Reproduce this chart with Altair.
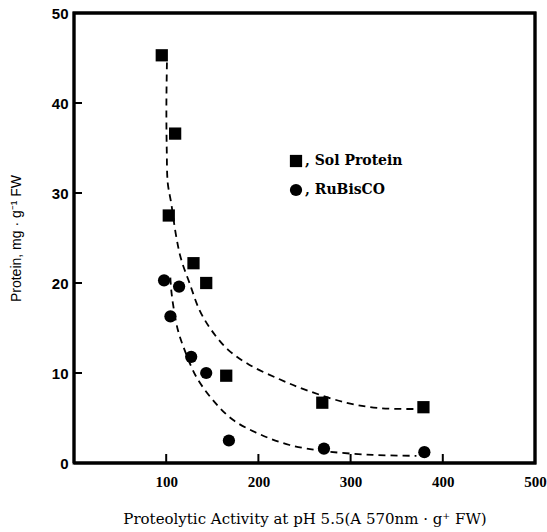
import altair as alt
import pandas as pd

series = ["Sol Protein", "RuBisCO"]
sol_x = [95.2, 109.7, 102.8, 129.6, 143.4, 165.1, 269.3, 379.0]
sol_y = [45.3, 36.6, 27.5, 22.2, 20.0, 9.7, 6.7, 6.2]
rub_x = [97.7, 114.0, 104.6, 127.1, 143.4, 168.0, 271.1, 380.0]
rub_y = [20.3, 19.6, 16.3, 11.8, 10.0, 2.5, 1.6, 1.2]

sol_curve_x = [100.8, 100.2, 100.6, 101.7, 105.4, 110.8, 116.3, 125.3, 136.1, 148.8,
               166.9, 190.4, 223.0, 252.0, 295.4, 331.5, 371.4]
sol_curve_y = [44.5, 39.6, 34.8, 31.1, 28.9, 25.2, 22.6, 20.0, 17.0, 14.8,
               12.6, 10.9, 9.3, 8.1, 6.7, 6.1, 6.0]
rub_curve_x = [104.5, 105.4, 107.2, 112.6, 119.8, 132.5, 150.6, 172.3, 201.3, 233.8,
               273.7, 324.3, 371.4]
rub_curve_y = [20.6, 19.3, 17.8, 14.8, 12.6, 9.6, 7.0, 4.8, 3.2, 2.0,
               1.3, 0.9, 0.8]

x_ticks = [100, 200, 300, 400]
y_ticks = [10, 20, 30, 40]
x_labels = [100, 200, 300, 400, 500]
y_labels = [0, 10, 20, 30, 40, 50]
box_x = [0, 500, 500, 0, 0]
box_y = [0, 0, 50, 50, 0]

pts = pd.DataFrame(
    {"x": sol_x + rub_x, "y": sol_y + rub_y,
     "s": [series[0]] * len(sol_x) + [series[1]] * len(rub_x)}
)
curves = pd.DataFrame(
    {"x": sol_curve_x + rub_curve_x, "y": sol_curve_y + rub_curve_y,
     "s": [series[0]] * len(sol_curve_x) + [series[1]] * len(rub_curve_x),
     "i": list(range(len(sol_curve_x))) + list(range(len(rub_curve_x)))}
)
box = pd.DataFrame({"x": box_x, "y": box_y, "i": list(range(len(box_x)))})

SERIF = "Liberation Serif"
SANS = "Liberation Sans"
W, H = 461, 450

xs = alt.Scale(domain=[0, 500], nice=False)
ys = alt.Scale(domain=[0, 50], nice=False)

xaxis = alt.Axis(values=x_labels, title="Proteolytic Activity at pH 5.5(A 570nm · g⁺ FW)",
                 grid=False, ticks=False, domain=False, labelPadding=11, labelFlush=False,
                 labelFont=SERIF, labelFontSize=15, labelFontWeight="bold",
                 titleFont="DejaVu Serif", titleFontSize=15, titleFontWeight="normal",
                 titlePadding=22)
yaxis = alt.Axis(values=y_labels, title="Protein, mg · g⁻¹ FW",
                 grid=False, ticks=False, domain=False, labelPadding=6, labelFlush=False,
                 labelFont=SANS, labelFontSize=15, labelFontWeight="bold",
                 titleFont=SANS, titleFontSize=14, titleFontWeight="normal",
                 titlePadding=28)

lines = alt.Chart(curves).mark_line(color="black", strokeDash=[7, 5], strokeWidth=1.8,
                                    interpolate="catmull-rom").encode(
    x=alt.X("x:Q", scale=xs, axis=xaxis),
    y=alt.Y("y:Q", scale=ys, axis=yaxis),
    detail="s:N",
    order="i:Q",
)

points = alt.Chart(pts).mark_point(filled=True, color="black", opacity=1, size=150).encode(
    x=alt.X("x:Q", scale=xs),
    y=alt.Y("y:Q", scale=ys),
    shape=alt.Shape("s:N", scale=alt.Scale(domain=series, range=["square", "circle"]),
                    legend=alt.Legend(orient="none", legendX=215, legendY=141, title=None,
                                      labelExpr="', ' + datum.label",
                                      labelFont="DejaVu Serif", labelFontSize=14,
                                      labelFontWeight="bold",
                                      symbolSize=150, symbolFillColor="black",
                                      symbolStrokeColor="black", symbolOpacity=1,
                                      rowPadding=9, labelOffset=2)),
)

ytick_df = pd.DataFrame({"v": y_ticks})
xtick_df = pd.DataFrame({"v": x_ticks})
yt = alt.Chart(ytick_df).mark_rule(color="black", strokeWidth=2).encode(
    y=alt.Y("v:Q", scale=ys), x=alt.value(0), x2=alt.value(8))
xt = alt.Chart(xtick_df).mark_rule(color="black", strokeWidth=2).encode(
    x=alt.X("v:Q", scale=xs), y=alt.value(H), y2=alt.value(H - 9))

frame = alt.Chart(box).mark_line(color="black", strokeWidth=3, strokeJoin="miter",
                                 clip=False).encode(
    x=alt.X("x:Q", scale=xs), y=alt.Y("y:Q", scale=ys), order="i:Q")

chart = alt.layer(lines, points, yt, xt, frame).properties(
    width=W, height=H,
    background="white",
    autosize=alt.AutoSizeParams(type="none"),
    padding={"left": 74, "top": 13, "right": 12, "bottom": 69},
).configure_view(stroke="black", strokeWidth=2.8)

chart.save("out.html", embed_options={"renderer": "svg", "actions": False})
